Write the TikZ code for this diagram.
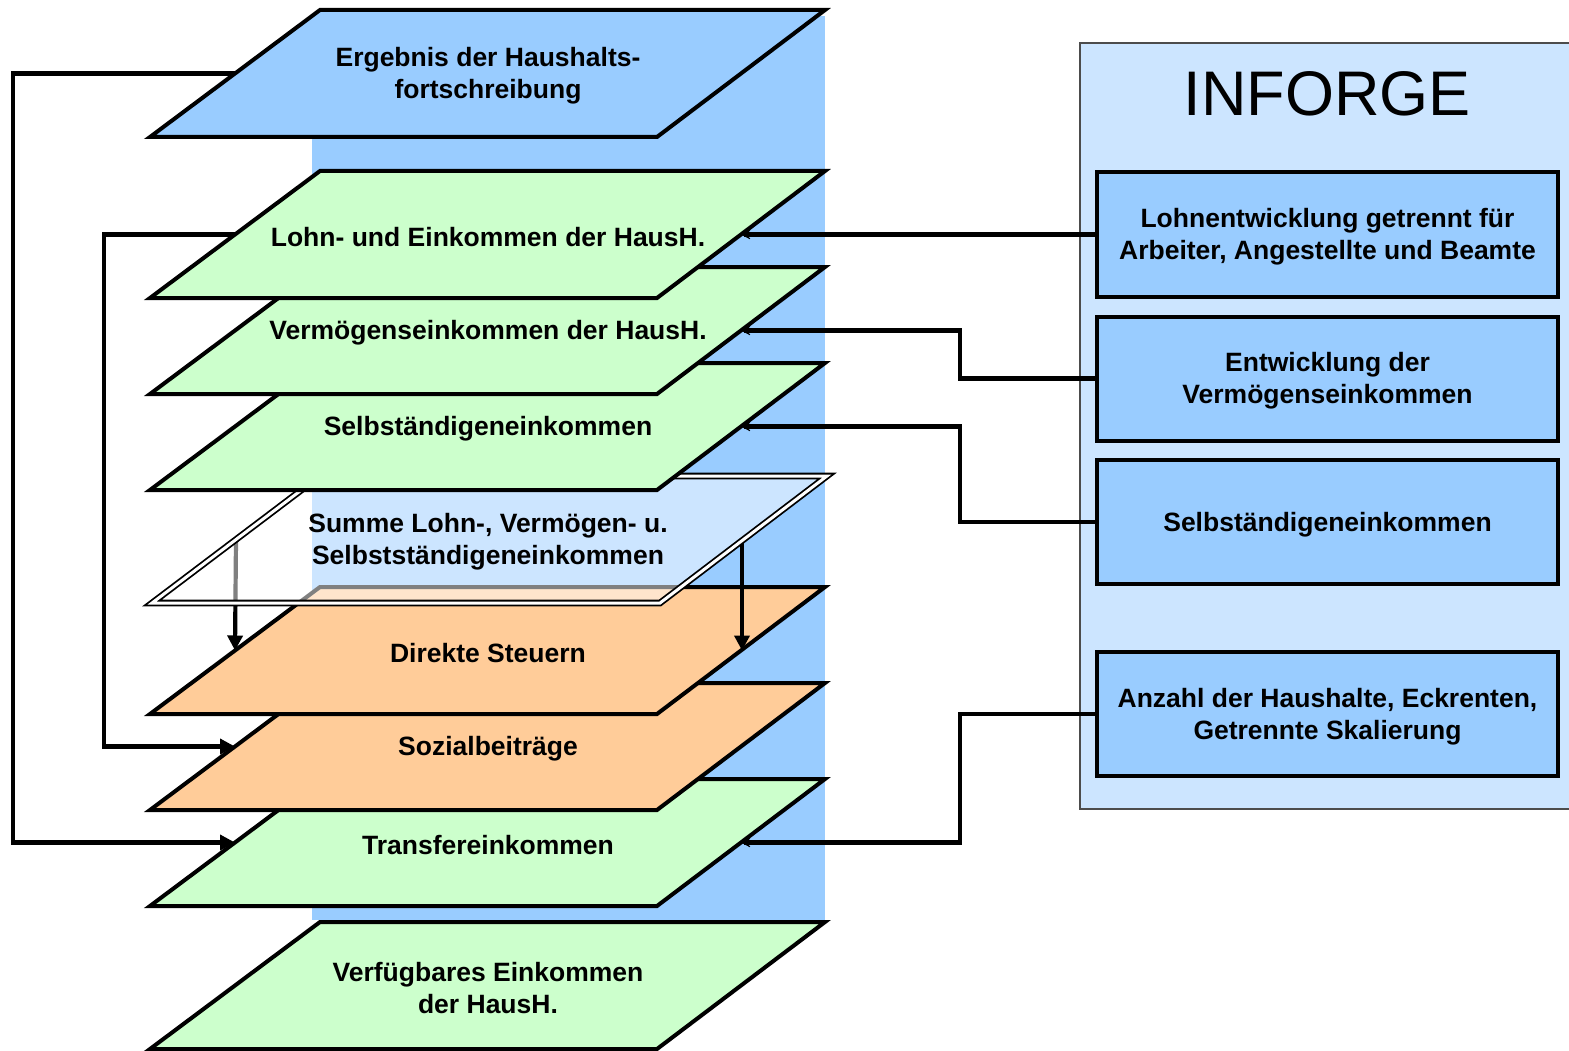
\documentclass[tikz,border=0pt]{standalone}
\usepackage{fontspec}
\setmainfont{Liberation Sans}
\usetikzlibrary{arrows.meta}
\definecolor{colblue}{HTML}{99CCFF}
\definecolor{colgreen}{HTML}{CCFFCC}
\definecolor{colorange}{HTML}{FFCC99}
\definecolor{collight}{HTML}{CCE5FF}
\newcommand\drawplane[4]{%
  \draw[planeline, fill=#3] (320,#2) -- (825,#2) -- (657,#2+127) -- (150,#2+127) -- cycle;
  \node[lbl] (#1) at (488,#2+63.5) {#4};
  \coordinate (#1-w) at (235,#2+63.5);
  \coordinate (#1-e) at (741,#2+63.5);
}
\begin{document}
\begin{tikzpicture}[x=1pt,y=-1pt,
  planeline/.style={line width=4pt, line join=miter},
  lbl/.style={align=center, font=\bfseries\fontsize{26.5}{32}\selectfont, inner sep=0pt, yshift=-2.5pt},
  srcbox/.style={draw, line width=4pt, fill=colblue, minimum width=461pt, minimum height=124pt, inner sep=0pt},
  larrow/.style={line width=4.2pt, -{Triangle[length=15pt,width=15pt]}},
  rarrow/.style={line width=4.2pt, -{Stealth[length=15pt,width=16pt,inset=11pt]}}
]
\useasboundingbox (0,0) rectangle (1569,1051);
% blue column
\fill[colblue] (312,16) rectangle (825,920);
% planes, bottom to top
\drawplane{verf}{922}{colgreen}{Verfügbares Einkommen\\der HausH.}
\drawplane{trans}{779}{colgreen}{Transfereinkommen}
\drawplane{sozial}{683}{colorange}{Sozialbeiträge}
\drawplane{direkt}{587}{colorange}{Direkte Steuern}
% Summe plane
\coordinate (summe-w) at (236,539.5);
\coordinate (summe-e) at (742,539.5);
\draw[larrow] (summe-w) -- (direkt-w);
\draw[larrow] (summe-e) -- (summe-e |- direkt-e);
\draw[line width=1.8pt, double=white, double distance=3pt, fill=white, fill opacity=0.5, draw opacity=1]
  (320,476) -- (827,476) -- (660,603) -- (152,603) -- cycle;
\node[lbl] (summe) at (488,539.5) {Summe Lohn-, Vermögen- u.\\Selbstständigeneinkommen};
\drawplane{selb}{363}{colgreen}{Selbständigeneinkommen}
\drawplane{verm}{267}{colgreen}{Vermögenseinkommen der HausH.}
\drawplane{lohn}{171}{colgreen}{Lohn- und Einkommen der HausH.}
\drawplane{ergeb}{10}{colblue}{Ergebnis der Haushalts-\\fortschreibung}
% left connectors
\draw[larrow] (ergeb-w) -- (13,73.5) |- (trans-w);
\draw[larrow] (lohn-w) -- (104,234.5) |- (sozial-w);
% INFORGE panel
\draw[fill=collight, draw=black!70, line width=1.2pt] (1080,43) rectangle (1580,809);
\node[anchor=base, font=\fontsize{63}{70}\selectfont, inner sep=0pt] (inforge) at (1327,116) {INFORGE};
\node[srcbox, label={[lbl]center:{Lohnentwicklung getrennt für\\Arbeiter, Angestellte und Beamte}}] (b1) at (1327.5,234.5) {};
\node[srcbox, label={[lbl]center:{Entwicklung der\\Vermögenseinkommen}}] (b2) at (1327.5,378.5) {};
\node[srcbox, label={[lbl]center:{Selbständigeneinkommen}}] (b3) at (1327.5,522) {};
\node[srcbox, label={[lbl]center:{Anzahl der Haushalte, Eckrenten,\\Getrennte Skalierung}}] (b4) at (1327.5,714) {};
% right connectors
\draw[rarrow] (b1.west) -- (lohn-e);
\draw[rarrow] (b2.west) -- (960,378.5) |- (verm-e);
\draw[rarrow] (b3.west) -- (960,522) |- (selb-e);
\draw[rarrow] (b4.west) -- (960,714) |- (trans-e);
\end{tikzpicture}
\end{document}
